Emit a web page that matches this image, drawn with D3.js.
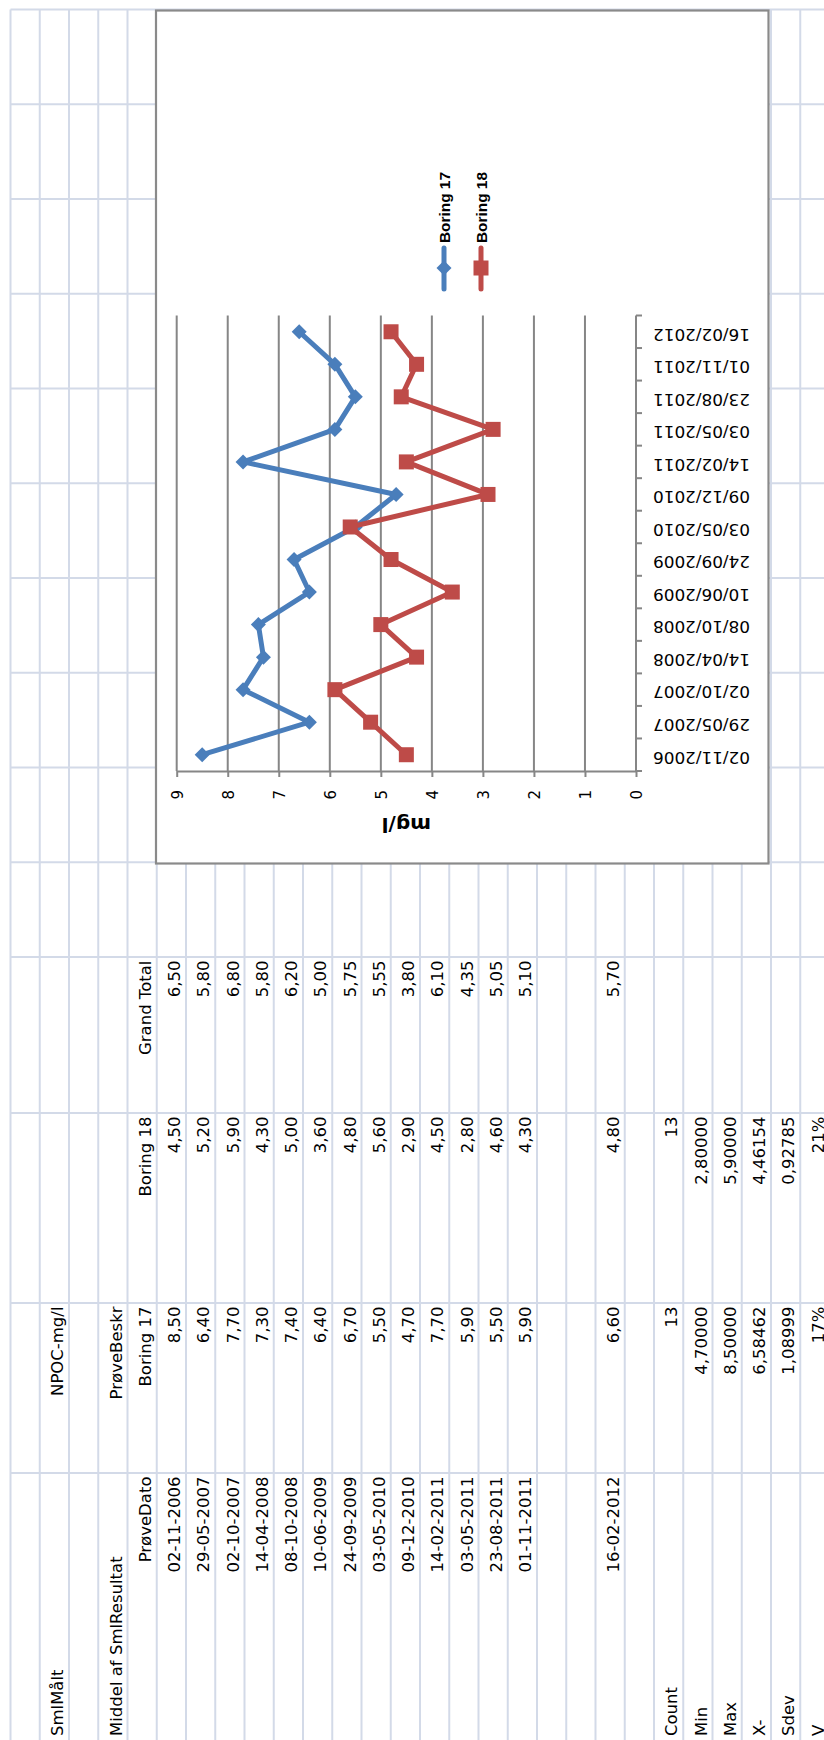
<!DOCTYPE html>
<html><head><meta charset="utf-8">
<script src="https://cdn.jsdelivr.net/npm/d3@7/dist/d3.min.js"></script>
<style>html,body{margin:0;padding:0;background:#fff;} svg{display:block;}</style>
</head><body>
<script>
// ---------- data ----------
const dates = ["02-11-2006","29-05-2007","02-10-2007","14-04-2008","08-10-2008","10-06-2009","24-09-2009","03-05-2010","09-12-2010","14-02-2011","03-05-2011","23-08-2011","01-11-2011","16-02-2012"];
const chartLabels = ["02/11/2006","29/05/2007","02/10/2007","14/04/2008","08/10/2008","10/06/2009","24/09/2009","03/05/2010","09/12/2010","14/02/2011","03/05/2011","23/08/2011","01/11/2011","16/02/2012"];
const boring17 = [8.5,6.4,7.7,7.3,7.4,6.4,6.7,5.5,4.7,7.7,5.9,5.5,5.9,6.6];
const boring18 = [4.5,5.2,5.9,4.3,5.0,3.6,4.8,5.6,2.9,4.5,2.8,4.6,4.3,4.8];
const grandTotal = [6.5,5.8,6.8,5.8,6.2,5.0,5.75,5.55,3.8,6.1,4.35,5.05,5.1,5.7];
const seriesNames = ["Boring 17","Boring 18"];
const seriesColors = ["#4A7EBB","#BE4B48"];
const statLabels = ["Count","Min","Max","X-","Sdev","V"];
const stats17 = ["13","4,70000","8,50000","6,58462","1,08999","17%"];
const stats18 = ["13","2,80000","5,90000","4,46154","0,92785","21%"];
const valueTicks = [0,1,2,3,4,5,6,7,8,9];
const axisTitle = "mg/l";

// ---------- layout (page coordinates) ----------
const W = 824, H = 1740;
const svg = d3.select("body").append("svg").attr("width", W).attr("height", H);

const rowPos = d3.scaleLinear().domain([0, 27]).range([10.5, 10.5 + 29.25 * 27]);
const colLinesY = d3.range(0, 11).map(j => 9.6 + 94.75 * j).concat([1113, 1303, 1473]);
const colTop = {A: 1473, B: 1303, C: 1113, D: 957.1};

const grid = svg.append("g").attr("stroke", "#D3DAE8").attr("stroke-width", 2);
d3.range(0, 28).forEach(k => {
  grid.append("line").attr("x1", rowPos(k)).attr("x2", rowPos(k)).attr("y1", 9.6).attr("y2", H);
});
colLinesY.forEach(y => {
  grid.append("line").attr("x1", 10.5).attr("x2", W).attr("y1", y).attr("y2", y);
});

const tbl = svg.append("g").attr("font-family", "'DejaVu Sans', Verdana, sans-serif")
  .attr("font-size", 16.5).attr("fill", "#000");
function cell(row, col, str, align) {
  const bx = rowPos(row + 1) - 6;
  let y, anchor;
  if (align === "left") { y = H - 4; anchor = "start"; }
  else { y = colTop[col] + 3.5; anchor = "end"; }
  tbl.append("text").attr("transform", `translate(${bx},${y}) rotate(-90)`)
    .attr("text-anchor", anchor).text(str);
}
const fmt = v => d3.format(".2f")(v).replace(".", ",");

cell(1, "A", "SmlMålt", "left");
cell(1, "B", "NPOC-mg/l", "right");
cell(3, "A", "Middel af SmlResultat", "left");
cell(3, "B", "PrøveBeskr", "right");
cell(4, "A", "PrøveDato", "right");
cell(4, "B", seriesNames[0], "right");
cell(4, "C", seriesNames[1], "right");
cell(4, "D", "Grand Total", "right");
dates.forEach((d, i) => {
  const r = i < 13 ? 5 + i : 20;
  cell(r, "A", d, "right");
  cell(r, "B", fmt(boring17[i]), "right");
  cell(r, "C", fmt(boring18[i]), "right");
  cell(r, "D", fmt(grandTotal[i]), "right");
});
statLabels.forEach((s, i) => {
  cell(22 + i, "A", s, "left");
  cell(22 + i, "B", stats17[i], "right");
  cell(22 + i, "C", stats18[i], "right");
});

// ---------- chart ----------
svg.append("rect").attr("x", 156).attr("y", 10.5).attr("width", 612.5).attr("height", 853)
  .attr("fill", "#fff").attr("stroke", "#8A8A8A").attr("stroke-width", 2.2);

const x = d3.scaleLinear().domain([0, 9]).range([636, 176.7]);
const y = d3.scaleBand().domain(chartLabels).range([771, 315.5]);
const bw = y.bandwidth();
const cy = l => y(l) + bw / 2;

const chart = svg.append("g");
// gridlines
chart.append("g").selectAll("line").data(valueTicks.filter(v => v > 0)).join("line")
  .attr("x1", d => x(d)).attr("x2", d => x(d)).attr("y1", 315.5).attr("y2", 771)
  .attr("stroke", "#868686").attr("stroke-width", 2);

// value axis (bottom)
const vAxis = chart.append("g").attr("transform", "translate(0,771)")
  .call(d3.axisBottom(x).tickValues(valueTicks).tickSize(6).tickSizeOuter(0).tickFormat(d3.format("d")));
vAxis.select(".domain").attr("stroke", "#868686").attr("stroke-width", 2);
vAxis.selectAll(".tick line").attr("stroke", "#868686").attr("stroke-width", 2);
vAxis.selectAll(".tick text")
  .attr("x", 0).attr("y", 0).attr("dy", null)
  .attr("text-anchor", "end")
  .attr("transform", "translate(5.4,19) rotate(-90)")
  .attr("font-family", "'DejaVu Sans', Verdana, sans-serif").attr("font-size", 15).attr("fill", "#000");

// category axis (vertical at value 0)
chart.append("line").attr("x1", x(0)).attr("x2", x(0)).attr("y1", 315.5).attr("y2", 771)
  .attr("stroke", "#868686").attr("stroke-width", 2);
const bounds = chartLabels.map(l => y(l)).concat([y(chartLabels[0]) + bw]);
chart.append("g").selectAll("line").data(bounds).join("line")
  .attr("x1", x(0)).attr("x2", x(0) + 6).attr("y1", d => d).attr("y2", d => d)
  .attr("stroke", "#868686").attr("stroke-width", 2);
chart.append("g").selectAll("text").data(chartLabels).join("text")
  .attr("transform", d => `translate(653,${cy(d)}) rotate(180)`)
  .attr("y", 3.2).attr("text-anchor", "end")
  .attr("font-family", "'DejaVu Sans', Verdana, sans-serif").attr("font-size", 15)
  .attr("textLength", 97).attr("lengthAdjust", "spacingAndGlyphs")
  .text(d => d);

// axis title
chart.append("text").attr("transform", `translate(${x(4.5)},818) rotate(180)`)
  .attr("text-anchor", "middle").attr("font-family", "'DejaVu Sans', sans-serif")
  .attr("font-weight", "bold").attr("font-size", 20).text(axisTitle);

// series
const seriesData = [boring17, boring18];
const line = d3.line().x(d => x(d.v)).y(d => cy(d.l));
const diamond = "M0,-7.5L7.5,0L0,7.5L-7.5,0Z";
seriesData.forEach((vals, si) => {
  const pts = vals.map((v, i) => ({v, l: chartLabels[i]}));
  const g = chart.append("g");
  g.append("path").datum(pts).attr("d", line).attr("fill", "none")
    .attr("stroke", seriesColors[si]).attr("stroke-width", 5).attr("stroke-linejoin", "round");
  if (si === 0) {
    g.selectAll("path.m").data(pts).join("path").attr("class", "m")
      .attr("d", diamond).attr("transform", d => `translate(${x(d.v)},${cy(d.l)})`)
      .attr("fill", seriesColors[si]);
  } else {
    g.selectAll("rect").data(pts).join("rect")
      .attr("x", d => x(d.v) - 7.5).attr("y", d => cy(d.l) - 7.5)
      .attr("width", 15).attr("height", 15).attr("fill", seriesColors[si]);
  }
});

// legend
const legX = [444, 481];
seriesNames.forEach((name, si) => {
  const lx = legX[si];
  const g = chart.append("g");
  g.append("line").attr("x1", lx).attr("x2", lx).attr("y1", 248).attr("y2", 289)
    .attr("stroke", seriesColors[si]).attr("stroke-width", 5).attr("stroke-linecap", "round");
  if (si === 0) g.append("path").attr("d", diamond).attr("transform", `translate(${lx},268)`).attr("fill", seriesColors[si]);
  else g.append("rect").attr("x", lx - 7.5).attr("y", 260.5).attr("width", 15).attr("height", 15).attr("fill", seriesColors[si]);
  g.append("text").attr("transform", `translate(${lx + 5.5},243) rotate(-90)`)
    .attr("text-anchor", "start").attr("font-family", "'Liberation Sans', Arial, sans-serif")
    .attr("font-weight", "bold").attr("font-size", 15.5)
    .attr("textLength", 71).attr("lengthAdjust", "spacingAndGlyphs")
    .attr("fill", "#000").text(name);
});
</script>
</body></html>
